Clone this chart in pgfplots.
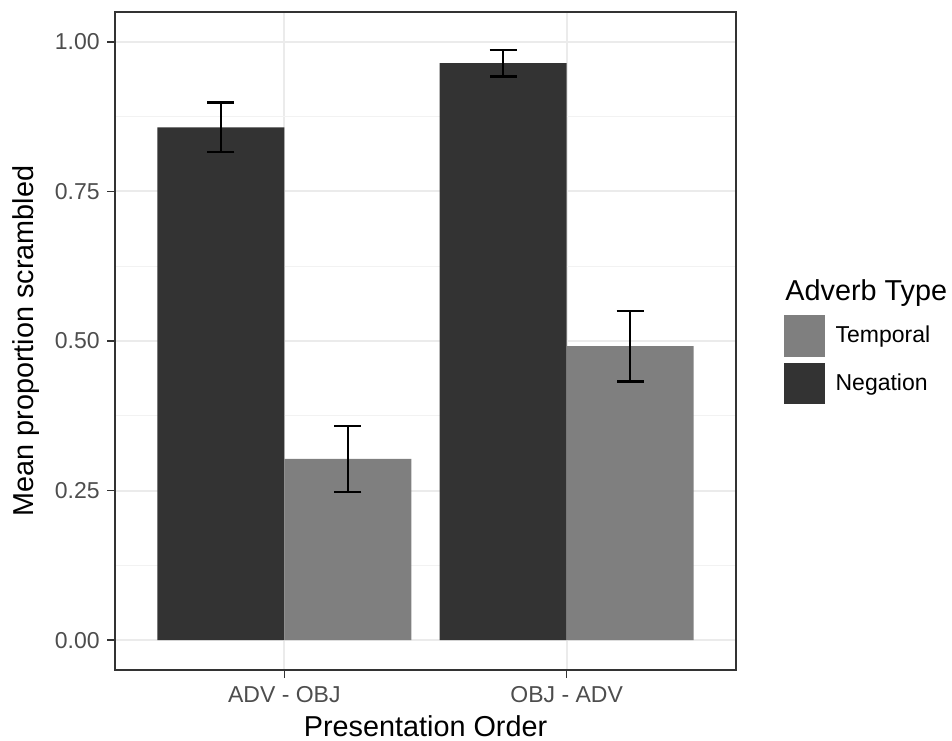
\documentclass[border=0pt]{standalone}
\usepackage{fontspec}
\setmainfont{Liberation Sans}
\usepackage{pgfplots}
\pgfplotsset{compat=1.18}
\definecolor{gray20}{HTML}{333333}
\definecolor{gray30}{HTML}{4D4D4D}
\definecolor{gray50}{HTML}{7F7F7F}
\definecolor{gray92}{HTML}{EBEBEB}
\definecolor{gray95}{HTML}{F2F2F2}
\begin{document}
\begin{tikzpicture}
\useasboundingbox (0,0) rectangle (476pt,370pt);
\begin{axis}[
  at={(57.5pt,35pt)}, anchor=south west,
  width=310.5pt, height=329pt, scale only axis,
  xmin=0.4, xmax=2.6, ymin=-0.05, ymax=1.05,
  xtick={1,2}, xticklabels={ADV - OBJ, OBJ - ADV},
  ytick={0,0.25,0.5,0.75,1}, yticklabels={0.00,0.25,0.50,0.75,1.00},
  minor ytick={0.125,0.375,0.625,0.875},
  tick pos=left, tick align=outside,
  major tick length=4pt, minor tick length=0pt,
  major tick style={gray20, line width=0.75pt},
  axis line style={gray20, line width=0.75pt},
  grid=both,
  major grid style={gray92, line width=1pt},
  minor grid style={gray95, line width=0.5pt},
  ticklabel style={font=\fontsize{11.5}{13}\selectfont, text=gray30, inner sep=0pt},
  yticklabel style={anchor=east, xshift=-3.5pt},
  xticklabel style={anchor=north, yshift=-3.8pt},
  xlabel={Presentation Order},
  ylabel={Mean proportion scrambled},
  label style={font=\fontsize{14.4}{16}\selectfont, text=black, inner sep=0pt},
  xlabel style={at={(axis description cs:0.5,-0.1018)}, anchor=base},
  ylabel style={at={(axis description cs:-0.1316,0.5)}, anchor=base, rotate=0},
  legend style={at={(axis description cs:1.0741,0.5421)}, anchor=north west,
    draw=none, fill=none, inner sep=0pt, row sep=1.8pt,
    font=\fontsize{11.5}{13}\selectfont, text=black},
  legend cell align=left,
  legend image code/.code={\draw[#1, draw=white, line width=0.7pt] (0pt,-10.7pt) rectangle (21.4pt,10.7pt);},
  error bars/error bar style={black, line width=1.2pt},
  error bars/error mark options={rotate=90, mark size=6.75pt, line width=1.2pt, black},
]
\addlegendimage{fill=gray50}
\addlegendentry{\hspace{2.5pt}Temporal}
\addlegendimage{fill=gray20}
\addlegendentry{\hspace{2.5pt}Negation}
% Negation bars (centred at category - 0.225)
\addplot[ybar, bar width=0.45, bar shift=0, fill=gray20, draw=none, forget plot,
  error bars/.cd, y dir=both, y explicit]
  coordinates {(0.775,0.857) +- (0,0.0415) (1.775,0.9645) +- (0,0.022)};
% Temporal bars (centred at category + 0.225)
\addplot[ybar, bar width=0.45, bar shift=0, fill=gray50, draw=none, forget plot,
  error bars/.cd, y dir=both, y explicit]
  coordinates {(1.225,0.303) +- (0,0.055) (2.225,0.4915) +- (0,0.059)};
\end{axis}
\node[anchor=base west, inner sep=0pt, font=\fontsize{14.4}{16}\selectfont] at (392.5pt,219.65pt) {Adverb Type};
\end{tikzpicture}
\end{document}
